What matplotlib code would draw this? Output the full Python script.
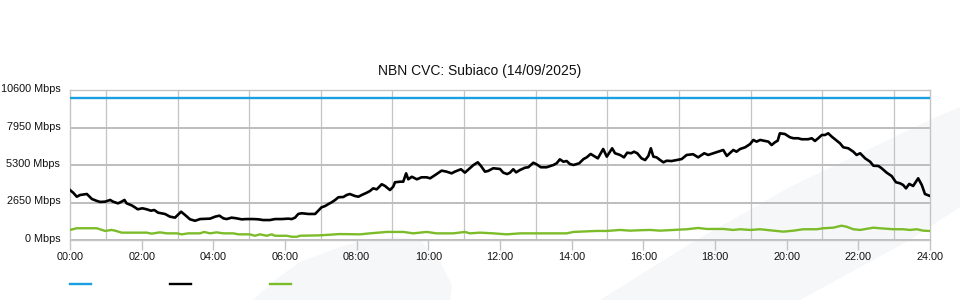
import numpy as np
import matplotlib
matplotlib.use("Agg")
import matplotlib.pyplot as plt
import matplotlib.transforms as mtransforms
from matplotlib.patches import Polygon
from matplotlib.lines import Line2D

plt.rcParams['font.family'] = ['Liberation Sans', 'DejaVu Sans']

# capacity (blue)
cap_hours = [0, 24]
cap_mbps = [10000, 10000]

# download traffic (black)
dl_hours = [0.00, 0.09, 0.19, 0.28, 0.47, 0.61, 0.75, 0.84, 0.98, 1.12, 1.20, 1.34, 1.44, 1.52,
            1.58, 1.72, 1.81, 1.89, 2.02, 2.14, 2.26, 2.35, 2.46, 2.65, 2.79, 2.93, 3.10, 3.21,
            3.35, 3.49, 3.63, 3.91, 4.05, 4.17, 4.28, 4.37, 4.51, 4.65, 4.79, 4.93, 5.12, 5.26,
            5.39, 5.58, 5.72, 5.91, 6.09, 6.19, 6.28, 6.37, 6.47, 6.65, 6.84, 6.93, 7.02, 7.12,
            7.21, 7.30, 7.40, 7.49, 7.63, 7.72, 7.81, 7.95, 8.05, 8.14, 8.28, 8.37, 8.46, 8.56,
            8.70, 8.79, 8.93, 9.02, 9.07, 9.21, 9.30, 9.38, 9.44, 9.54, 9.68, 9.81, 9.95, 10.05,
            10.19, 10.37, 10.51, 10.65, 10.74, 10.91, 11.02, 11.16, 11.26, 11.38, 11.47, 11.58,
            11.67, 11.81, 12.00, 12.09, 12.20, 12.28, 12.37, 12.45, 12.56, 12.70, 12.79, 12.93,
            13.02, 13.14, 13.30, 13.49, 13.58, 13.67, 13.77, 13.86, 13.95, 14.05, 14.21, 14.33,
            14.42, 14.53, 14.65, 14.73, 14.88, 14.98, 15.13, 15.21, 15.35, 15.46, 15.55, 15.66,
            15.74, 15.83, 15.95, 16.05, 16.14, 16.21, 16.28, 16.37, 16.47, 16.56, 16.65, 16.79,
            16.93, 17.07, 17.21, 17.39, 17.53, 17.70, 17.81, 18.00, 18.14, 18.23, 18.33, 18.51,
            18.60, 18.70, 18.84, 18.98, 19.07, 19.16, 19.26, 19.40, 19.49, 19.58, 19.67, 19.75,
            19.81, 19.95, 20.09, 20.19, 20.32, 20.42, 20.60, 20.70, 20.79, 20.88, 20.98, 21.07,
            21.16, 21.26, 21.40, 21.49, 21.58, 21.72, 21.86, 21.95, 22.05, 22.19, 22.33, 22.42,
            22.56, 22.65, 22.79, 22.93, 23.05, 23.16, 23.25, 23.33, 23.42, 23.53, 23.67, 23.77,
            23.86, 24.00]
dl_mbps = [3530, 3340, 3060, 3180, 3250, 2900, 2760, 2690, 2710, 2830, 2710, 2590, 2710, 2830,
           2590, 2450, 2310, 2170, 2240, 2170, 2070, 2120, 1930, 1840, 1650, 1580, 2000, 1770,
           1460, 1360, 1480, 1510, 1650, 1720, 1530, 1480, 1580, 1530, 1460, 1480, 1480, 1460,
           1410, 1410, 1480, 1480, 1510, 1480, 1580, 1840, 1890, 1840, 1840, 2070, 2310, 2400,
           2540, 2660, 2830, 3020, 3040, 3180, 3250, 3110, 3060, 3180, 3340, 3460, 3650, 3580,
           3940, 3820, 3530, 3770, 4080, 4120, 4120, 4710, 4290, 4470, 4290, 4430, 4430, 4360,
           4590, 4900, 4830, 4710, 4830, 5000, 4760, 5070, 5300, 5490, 5230, 4830,
           4880, 5070, 5020, 4760, 4660, 4760, 5000, 4780, 4950, 5110, 5140, 5460,
           5350, 5140, 5140, 5300, 5420, 5700, 5530, 5580, 5370, 5300, 5420, 5720,
           5840, 6080, 5890, 5770, 6430, 5890, 6480, 6130, 6010, 5840, 6170, 6130,
           6240, 6130, 5770, 5650, 5940, 6480, 5890, 5840, 5650, 5490, 5600, 5580,
           5650, 5720, 6010, 6060, 5840, 6130, 6010, 6170, 6290, 6360, 5940, 6360,
           6240, 6430, 6550, 6780, 7070, 6950, 7070, 7000, 6950, 6710, 6900, 7020,
           7540, 7490, 7260, 7190, 7190, 7120, 7120, 7190, 7000, 7190, 7420, 7420,
           7540, 7300, 7020, 6830, 6550, 6480, 6240, 6010, 6130, 5770, 5530, 5250,
           5230, 5070, 4760, 4520, 4080, 4010, 3890, 3650, 3960, 3820, 4360, 3890,
           3250, 3110]

# upload traffic (green)
ul_hours = [0.00, 0.19, 0.75, 0.98, 1.16, 1.26, 1.44, 2.14, 2.28, 2.51, 2.70, 2.98, 3.12, 3.30,
            3.63, 3.74, 3.91, 4.09, 4.28, 4.56, 4.70, 5.02, 5.16, 5.30, 5.49, 5.63, 5.72, 6.05,
            6.19, 6.33, 6.42, 6.98, 7.53, 8.09, 8.37, 8.84, 9.30, 9.58, 9.95, 10.23, 10.70, 11.02,
            11.16, 11.44, 11.81, 12.19, 12.56, 13.86, 14.05, 14.70, 14.98, 15.35, 15.63, 15.91,
            16.19, 16.47, 16.84, 17.21, 17.53, 17.77, 18.23, 18.51, 18.70, 18.98, 19.26, 19.63,
            19.91, 20.19, 20.47, 20.84, 21.02, 21.30, 21.53, 21.67, 21.86, 22.05, 22.42, 22.60,
            22.98, 23.25, 23.44, 23.63, 23.81, 24.00]
ul_mbps = [710, 830, 830, 640, 710, 660, 520, 520, 450, 540, 470, 470, 400, 470,
           470, 570, 470, 540, 470, 470, 400, 400, 300, 400, 300, 400, 300, 300,
           230, 230, 300, 330, 420, 400, 470, 570, 570, 470, 570, 470, 470, 570,
           470, 520, 470, 400, 470, 470, 570, 640, 640, 710, 660, 690,
           710, 660, 710, 760, 850, 780, 780, 710, 760, 710, 760, 660,
           590, 660, 760, 760, 830, 870, 1010, 940, 760, 710, 870, 830,
           760, 760, 710, 760, 660, 640]

y_ticks = [0, 2650, 5300, 7950, 10600]
y_labels = ["0 Mbps", "2650 Mbps", "5300 Mbps", "7950 Mbps", "10600 Mbps"]
x_ticks = list(range(0, 25, 2))
x_labels = ["%02d:00" % h for h in x_ticks]

BLUE = "#1a9fe0"
GREEN = "#7cbc2a"
GRID = "#c4c4c4"
SHADE = "#f6f7f9"

fig = plt.figure(figsize=(9.6, 3.0), dpi=100)
W, H = 960.0, 300.0

def fxy(pts):
    return [(x / W, 1 - y / H) for x, y in pts]

# faint background watermark
band = [(600, 300), (693, 242), (790, 187), (930, 120), (960, 107),
        (960, 207), (910, 240), (800, 300)]
blob = [(253, 300), (275, 280), (300, 262), (340, 247), (370, 239), (397, 237),
        (420, 240), (440, 262), (452, 285), (450, 300)]
for pts in (band, blob):
    fig.patches.append(Polygon(fxy(pts), closed=True, transform=fig.transFigure,
                               facecolor=SHADE, edgecolor="none", zorder=-5))

ax = fig.add_axes([70 / W, 60 / H, 860 / W, 150 / H])
ax.set_zorder(2)
ax.set_facecolor("none")

ax.plot(cap_hours, cap_mbps, color=BLUE, lw=1.7, zorder=3)
ax.plot(dl_hours, dl_mbps, color="black", lw=1.9, zorder=3)
ax.plot(ul_hours, ul_mbps, color=GREEN, lw=1.7, zorder=3)

ax.set_xlim(0, 24)
ax.set_ylim(0, 10600)

ax.set_yticks(y_ticks)
ax.set_yticklabels(y_labels)
ax.set_xticks(x_ticks)
ax.set_xticklabels(x_labels)
ax.set_xticks(range(0, 25), minor=True)

ax.tick_params(axis="y", length=0, pad=7, labelsize=7.8, labelcolor="#111111")
ax.tick_params(axis="x", which="major", length=7, width=1, color=GRID, pad=2,
               labelsize=7.8, labelcolor="#111111")
ax.tick_params(axis="x", which="minor", length=0)

# y labels sit a touch above their gridlines
lift = mtransforms.ScaledTranslation(0, 2 / 100, fig.dpi_scale_trans)
for lbl in ax.get_yticklabels():
    lbl.set_transform(lbl.get_transform() + lift)

ax.grid(axis="x", which="minor", color=GRID, lw=0.9, zorder=1)
ax.grid(axis="y", which="major", color="#bdbdbd", lw=1.4, zorder=1)
ax.set_axisbelow(True)
for s in ax.spines.values():
    s.set_color(GRID)
    s.set_linewidth(1.0)

fig.text(0.5, 1 - 71 / H, "NBN CVC: Subiaco (14/09/2025)", ha="center", va="center",
         fontsize=10, color="#111111")

handles = [Line2D([], [], color=c, lw=1.7) for c in (BLUE, "black", GREEN)]
fig.legend(handles, ["", "", ""], loc="center left", bbox_to_anchor=(70 / W, 1 - 285 / H),
           ncol=3, frameon=False, handlelength=1.9, handletextpad=0.0,
           columnspacing=7.1, borderpad=0.0, borderaxespad=0.0, fontsize=8)

fig.savefig("out.png", dpi=100)
